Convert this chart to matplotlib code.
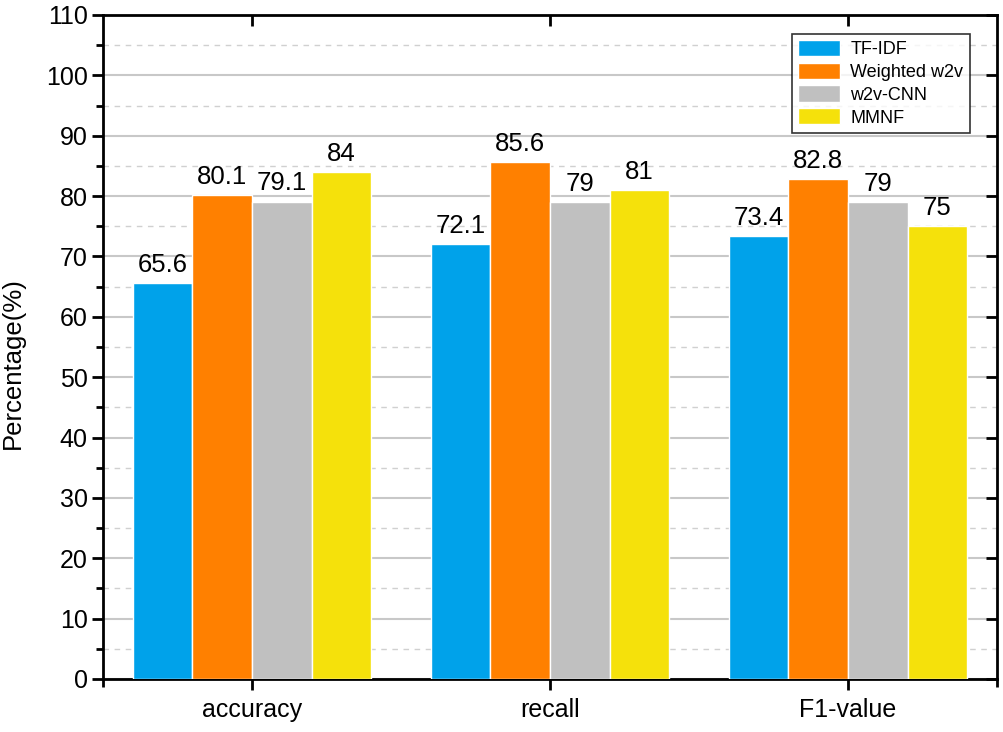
import matplotlib
matplotlib.use("Agg")
import matplotlib.pyplot as plt
import numpy as np
from matplotlib.ticker import MultipleLocator

plt.rcParams['font.family'] = ['Liberation Sans', 'DejaVu Sans']

categories = ["accuracy", "recall", "F1-value"]
series_names = ["TF-IDF", "Weighted w2v", "w2v-CNN", "MMNF"]
tfidf = [65.6, 72.1, 73.4]
weighted_w2v = [80.1, 85.6, 82.8]
w2v_cnn = [79.1, 79, 79]
mmnf = [84, 81, 75]
value_labels = [["65.6", "72.1", "73.4"], ["80.1", "85.6", "82.8"],
                ["79.1", "79", "79"], ["84", "81", "75"]]
colors = ["#00A2EA", "#FF8000", "#C0C0C0", "#F5E10B"]

fig = plt.figure(figsize=(10.04, 7.32), dpi=100)
ax = fig.add_axes([103/1004, 1-679/732, (997-103)/1004, (679-15)/732])

x = np.arange(len(categories))
w = 0.2
all_series = [tfidf, weighted_w2v, w2v_cnn, mmnf]
for i, (vals, name, c) in enumerate(zip(all_series, series_names, colors)):
    pos = x + (i - 1.5) * w
    bars = ax.bar(pos, vals, width=w, color=c, edgecolor="white", linewidth=1.0,
                  label=name, zorder=3)
    for b, lab in zip(bars, value_labels[i]):
        ax.text(b.get_x() + b.get_width()/2, b.get_height() + 1.0, lab,
                ha="center", va="bottom", fontsize=18.5, zorder=4)

ax.set_xlim(-0.5, 2.5)
ax.set_ylim(0, 110)
ax.set_xticks(x)
ax.set_xticklabels(categories, fontsize=18)
ax.yaxis.set_major_locator(MultipleLocator(10))
ax.yaxis.set_minor_locator(MultipleLocator(5))
ax.tick_params(axis="y", which="major", direction="out", length=8, width=2,
               labelsize=18, right=True, pad=3)
ax.tick_params(axis="y", which="minor", direction="out", length=5, width=2, right=True)
ax.tick_params(axis="x", which="major", direction="out", length=8, width=2,
               labelsize=18, top=True, pad=6)
ax.tick_params(axis="x", which="minor", bottom=False, top=False)
ax.tick_params(axis="y", which="both", right=True, labelright=False)
# inward ticks on right and top
for t in ax.yaxis.get_major_ticks():
    t.tick2line.set_marker(matplotlib.lines.TICKLEFT)
for t in ax.yaxis.get_minor_ticks():
    t.tick2line.set_visible(False)
for t in ax.xaxis.get_major_ticks():
    t.tick2line.set_marker(matplotlib.lines.TICKDOWN)

ax.grid(which="major", axis="y", color="#C8C8C8", linewidth=1.5, linestyle="-", zorder=0)
ax.grid(which="minor", axis="y", color="#D0D0D0", linewidth=1.0, linestyle=(0, (4, 4)), zorder=0)
ax.set_axisbelow(True)

for s in ax.spines.values():
    s.set_linewidth(2)
    s.set_color("black")

# short spine extensions below the x axis at both ends (Origin-style)
for xe in (0.0, 1.0):
    ax.plot([xe, xe], [0, -0.012], transform=ax.transAxes, color="black",
            lw=2, clip_on=False, solid_capstyle="butt")

ax.set_ylabel("Percentage(%)", fontsize=18.5)
ax.yaxis.set_label_coords(-0.087, 0.476)

leg = ax.legend(loc="upper right", bbox_to_anchor=(0.9695, 0.972), fontsize=13,
                frameon=True, fancybox=False, edgecolor="black", handlelength=2.3,
                handleheight=1.0, borderpad=0.35, labelspacing=0.25, handletextpad=0.6,
                borderaxespad=0)
leg.get_frame().set_linewidth(1.2)

fig.savefig("out.png", dpi=100)
